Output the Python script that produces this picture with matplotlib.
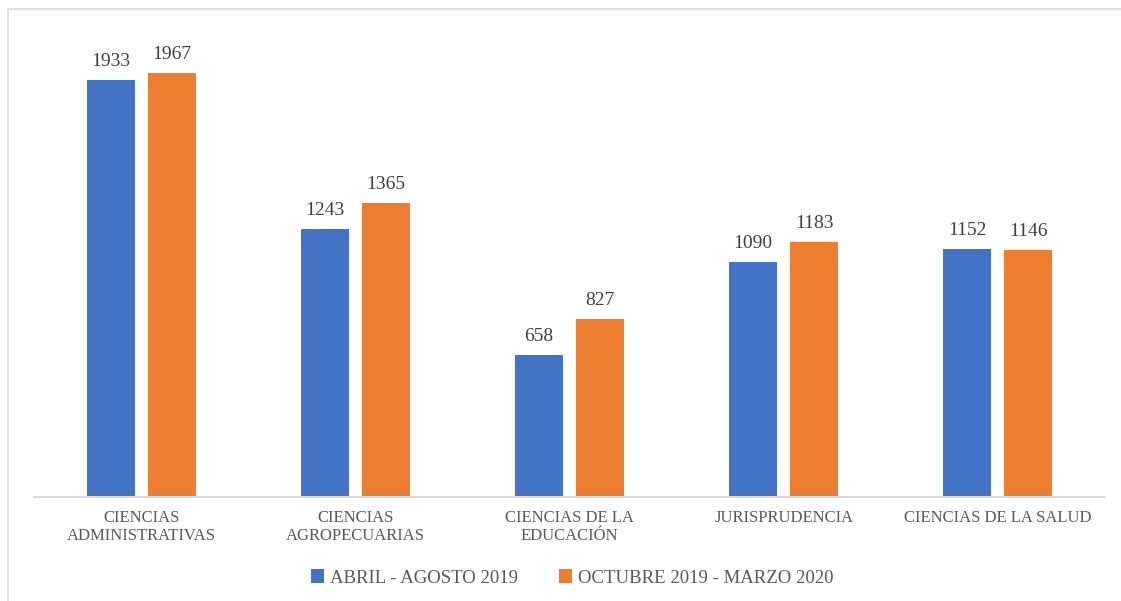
import numpy as np
import matplotlib.pyplot as plt
from matplotlib.patches import Rectangle

plt.rcParams['font.family'] = ['Liberation Serif', 'DejaVu Serif']

categorias = ["CIENCIAS\nADMINISTRATIVAS", "CIENCIAS\nAGROPECUARIAS", "CIENCIAS DE LA\nEDUCACIÓN",
              "JURISPRUDENCIA", "CIENCIAS DE LA SALUD"]
serie1_nombre = "ABRIL - AGOSTO 2019"
serie2_nombre = "OCTUBRE 2019 - MARZO 2020"
serie1 = [1933, 1243, 658, 1090, 1152]
serie2 = [1967, 1365, 827, 1183, 1146]

azul = "#4472C4"
naranja = "#ED7D31"
gris_texto = "#595959"

W, H = 1121, 601
fig = plt.figure(figsize=(W / 100, H / 100), dpi=100)

# marco gris alrededor del grafico
fig.patches.append(Rectangle((8 / W, -0.05), 1.1, (H - 9) / H + 0.05, transform=fig.transFigure,
                             fill=False, edgecolor="#D9D9D9", linewidth=1.2))

ax = fig.add_axes([34 / W, (H - 497) / H, (1105 - 34) / W, (497 - 30) / H])

x = np.arange(len(categorias))
ancho = 0.224
off = 0.1425
b1 = ax.bar(x - off, serie1, ancho, color=azul, label=serie1_nombre)
b2 = ax.bar(x + off, serie2, ancho, color=naranja, label=serie2_nombre)

for barras in (b1, b2):
    for b in barras:
        ax.annotate(f"{int(b.get_height())}", (b.get_x() + b.get_width() / 2, b.get_height()),
                    xytext=(0, 7), textcoords="offset points", ha="center", va="bottom",
                    fontsize=14, color="#404040")

ax.set_xlim(-0.5, len(categorias) - 0.5)
ax.set_ylim(0, 2165)
ax.set_yticks([])
ax.set_xticks(x)
ax.set_xticklabels(categorias, fontsize=12, color=gris_texto, linespacing=1.25)
ax.tick_params(axis="x", length=0, pad=9)
for s in ("top", "right", "left"):
    ax.spines[s].set_visible(False)
ax.spines["bottom"].set_color("#D9D9D9")
ax.spines["bottom"].set_linewidth(1.5)

leg = fig.legend(handles=[b1, b2], loc="center", bbox_to_anchor=(572 / W, (H - 578) / H), ncol=2,
                 frameon=False, fontsize=13.5, handlelength=0.7, handleheight=0.7,
                 handletextpad=0.3, columnspacing=2.2)
for t in leg.get_texts():
    t.set_color(gris_texto)

fig.savefig("out.png", dpi=100)
